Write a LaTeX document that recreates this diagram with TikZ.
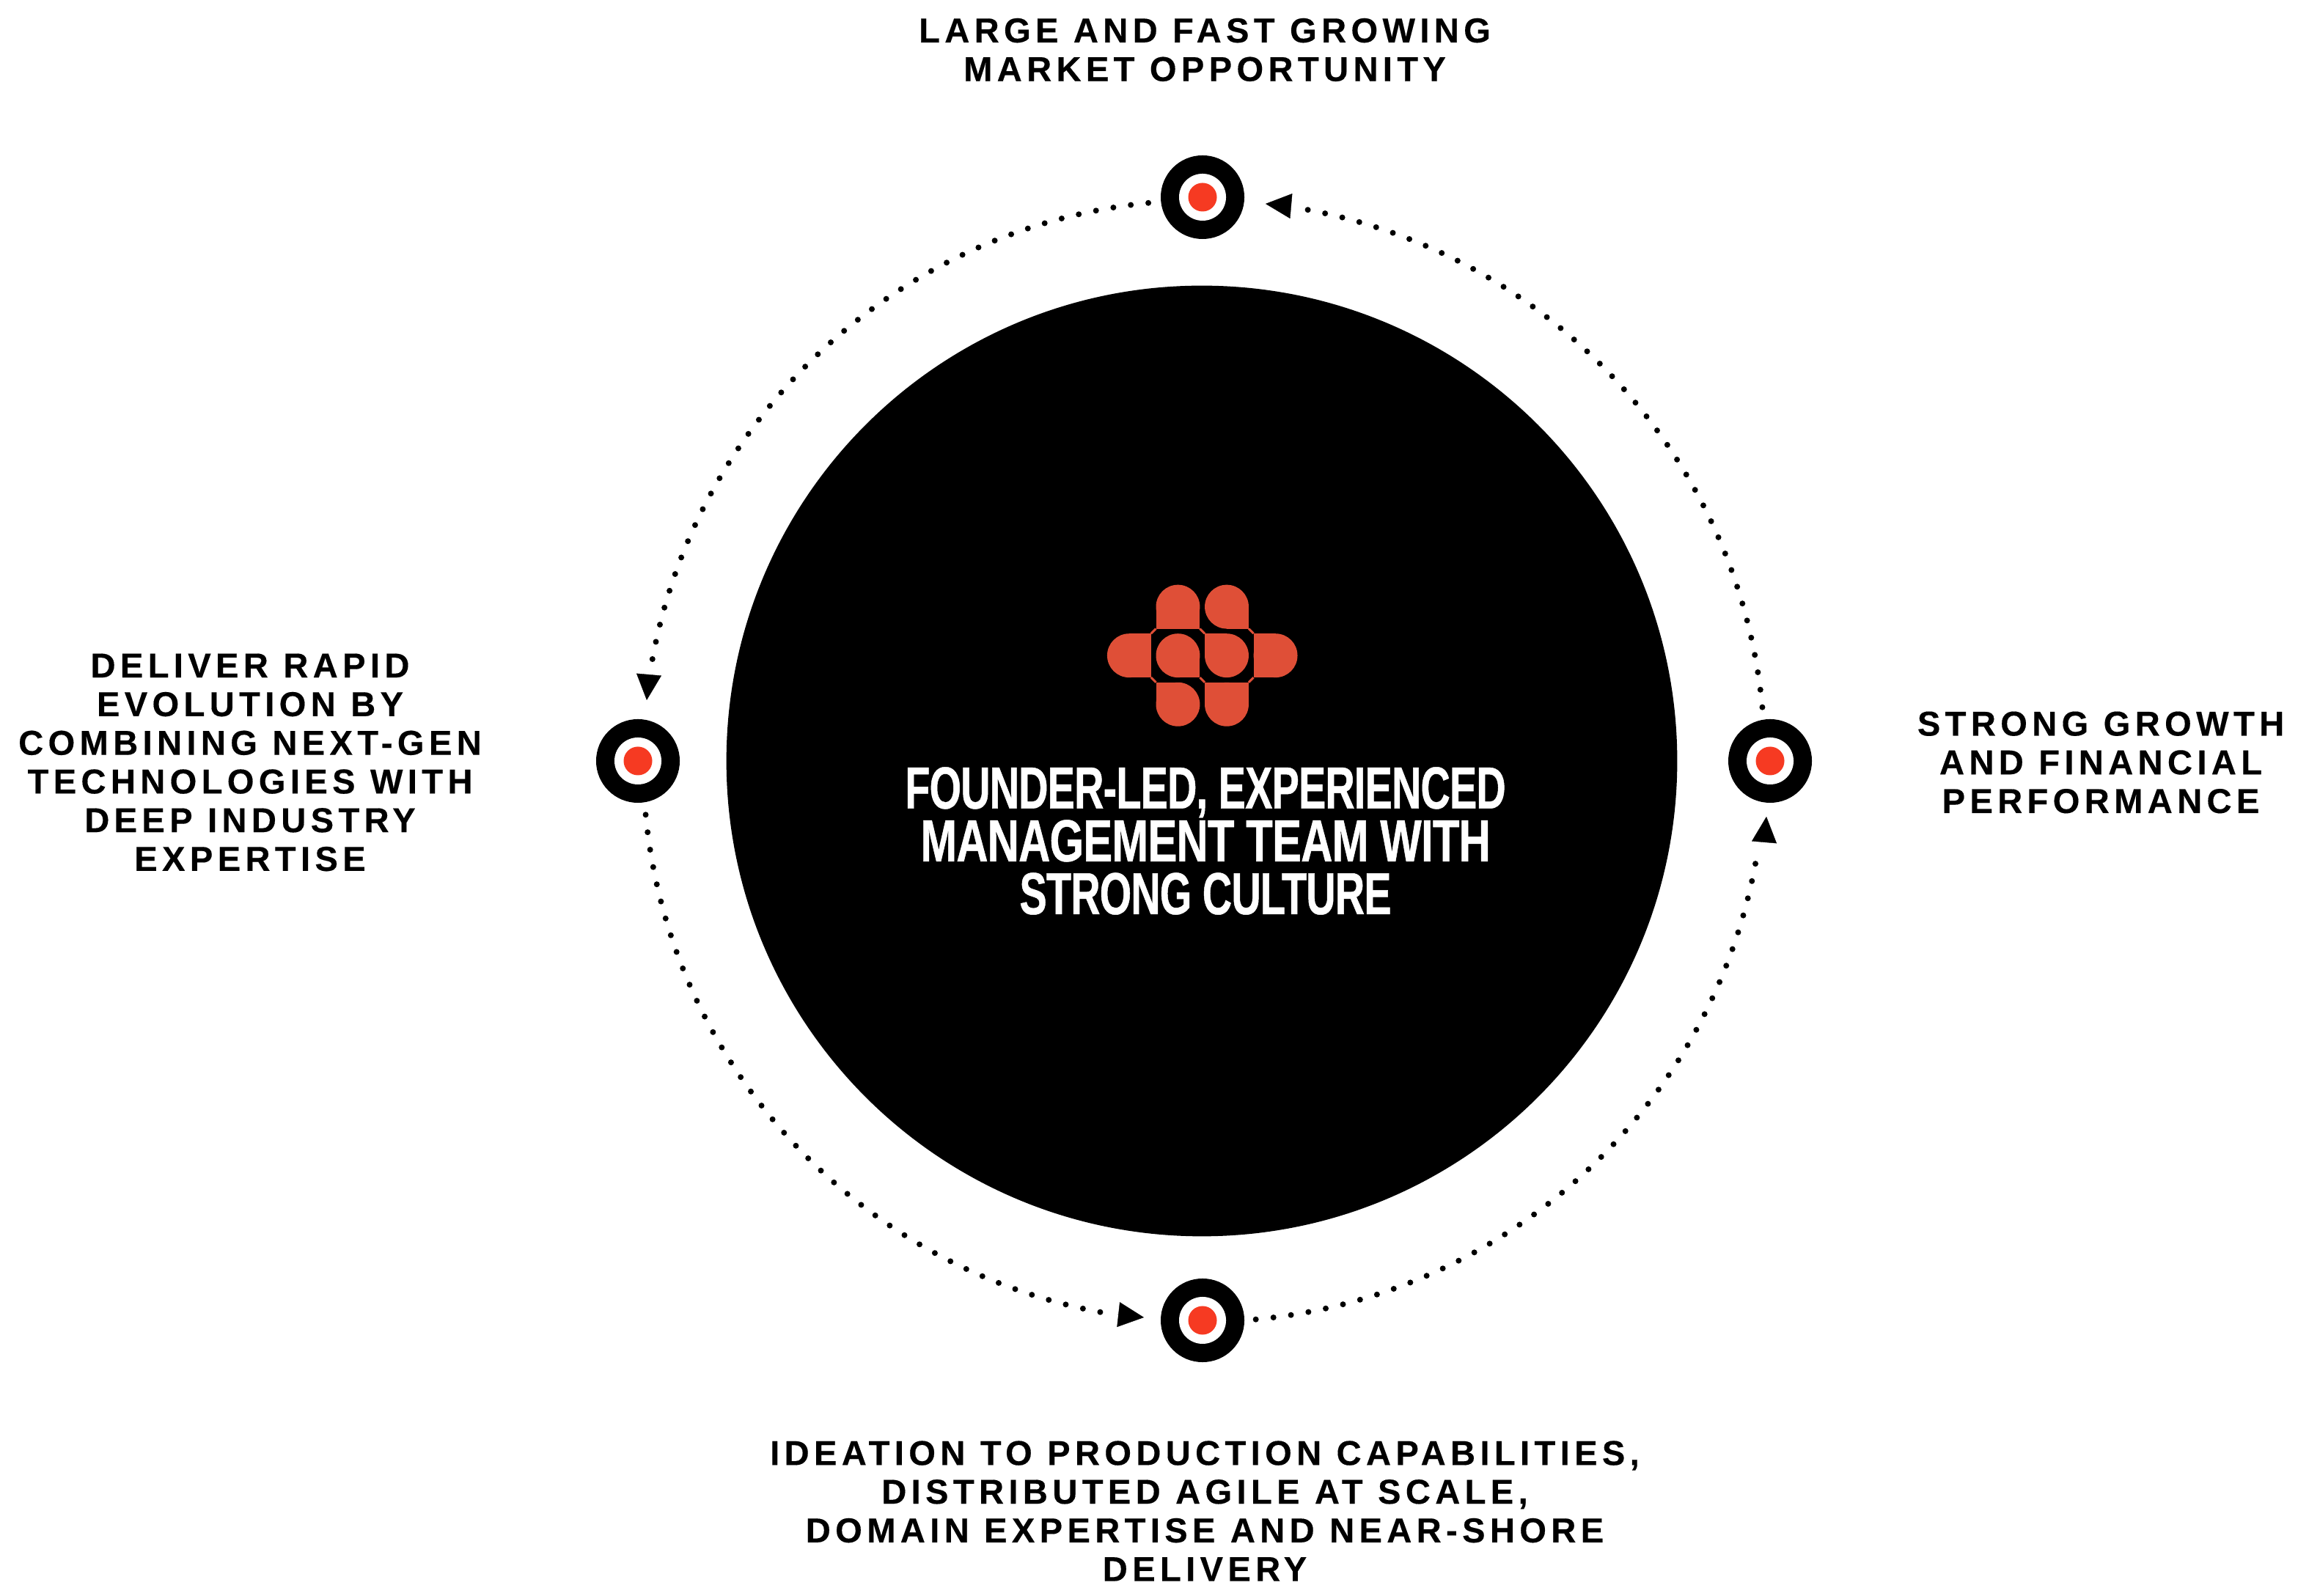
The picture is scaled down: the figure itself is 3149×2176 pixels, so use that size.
\documentclass[tikz,border=0pt]{standalone}
\usepackage{fontspec}
\usetikzlibrary{arrows.meta}
\setmainfont{Liberation Sans}
\newfontfamily\lblfont[LetterSpace=13.5,WordSpace=1.05,FakeBold=0.3]{Liberation Sans Bold}
\newfontfamily\hubfont[FakeStretch=0.69,LetterSpace=-1,FakeBold=0.6]{Liberation Sans Bold}
\newfontfamily\hubwide[FakeStretch=0.74,LetterSpace=-1,FakeBold=0.6]{Liberation Sans Bold}
\definecolor{logored}{HTML}{DF4F37}
\definecolor{dotred}{HTML}{F63A22}
\tikzset{
  lbl/.style={font=\lblfont\fontsize{13.4}{15}\selectfont,align=center,text=black,inner sep=0pt},
  hubtext/.style={font=\hubfont\fontsize{23}{20.5}\selectfont,align=center,text=white,inner sep=0pt},
  hubdisc/.style={circle,fill=black,minimum size=12.96cm,inner sep=0pt},
  ring/.style={circle,fill=black,minimum size=1.14cm,inner sep=0pt},
  hole/.style={circle,fill=white,minimum size=0.64cm,inner sep=0pt},
  bull/.style={circle,fill=dotred,minimum size=0.39cm,inner sep=0pt},
  orbit/.style={line width=0.08cm,line cap=round,dash pattern=on 0pt off 0.2403cm},
  headtip/.style={line width=0.1pt,-{Triangle[length=0.35cm,width=0.34cm,fill=black]}},
  logofill/.style={fill=logored},
  logoline/.style={draw=logored,line width=0.03cm}
}
\newcommand{\lobe}[6]{%
  \fill[logofill] (#1,#2) circle[radius=90];
  \fill[logofill] (#3,#4) rectangle (#5,#6);}
\begin{document}
\begin{tikzpicture}[x=0.01cm,y=0.01cm]
\useasboundingbox (0,0) rectangle (3149,2176);
\coordinate (c) at (1639,1138);
\coordinate (o) at (1642,1138);
\node[hubdisc] (hub) at (c) {};
% target nodes
\node[ring] (top) at (1640,1907) {}; \node[hole] (topa) at (top) {}; \node[bull] (topb) at (top) {};
\node[ring] (left) at (870,1138) {}; \node[hole] (lefta) at (left) {}; \node[bull] (leftb) at (left) {};
\node[ring] (bottom) at (1640,375) {}; \node[hole] (bottoma) at (bottom) {}; \node[bull] (bottomb) at (bottom) {};
\node[ring] (right) at (2414,1138) {}; \node[hole] (righta) at (right) {}; \node[bull] (rightb) at (right) {};
% connectors: dotted arcs
\path (o) ++(95.7:765) coordinate (s1);
\path (o) ++(185.5:765) coordinate (s2);
\path (o) ++(275.3:765) coordinate (s3);
\path (o) ++(5.5:765) coordinate (s4);
\draw[orbit] (s1) arc[start angle=95.7,end angle=169.6,radius=765];
\draw[orbit] (s2) arc[start angle=185.5,end angle=259.4,radius=765];
\draw[orbit,dash pattern=on 0pt off 0.2413cm] (s3) arc[start angle=275.3,end angle=349.5,radius=765];
\draw[orbit] (s4) arc[start angle=5.5,end angle=79.4,radius=765];
% connectors: arrowheads
\coordinate (b1) at (885,1256); \coordinate (t1) at (882,1221);
\coordinate (b2) at (1524,383); \coordinate (t2) at (1560,379);
\coordinate (b3) at (2406,1027); \coordinate (t3) at (2409,1062);
\coordinate (b4) at (1760,1895); \coordinate (t4) at (1726,1898);
\draw[headtip] (b1) -- (t1);
\draw[headtip] (b2) -- (t2);
\draw[headtip] (b3) -- (t3);
\draw[headtip] (b4) -- (t4);
% logo
\begin{scope}[shift={(1460,1156)},x=0.003333cm,y=0.003333cm]
  \lobe{440}{578}{350}{488}{530}{578}
  \lobe{640}{578}{640}{488}{730}{578}
  \lobe{240}{378}{240}{288}{330}{468}
  \lobe{840}{378}{750}{288}{840}{468}
  \lobe{440}{378}{440}{288}{530}{378}
  \lobe{640}{378}{550}{378}{640}{468}
  \lobe{440}{178}{350}{178}{440}{268}
  \lobe{640}{178}{550}{178}{730}{268}
  \draw[logoline] (350,488) -- (330,468);
  \draw[logoline] (530,488) -- (550,468);
  \draw[logoline] (730,488) -- (750,468);
  \draw[logoline] (330,288) -- (350,268);
  \draw[logoline] (530,288) -- (550,268);
  \draw[logoline] (750,288) -- (730,268);
\end{scope}
% labels
\node[hubtext] (hubl) at (1644,1029) {FOUNDER-LED, EXPERIENCED\\{\hubwide MANAGEMENT TEAM WITH}\\STRONG CULTURE};
\node[lbl] (ltop) at (1643,2108) {LARGE AND FAST GROWING\\MARKET OPPORTUNITY};
\node[lbl] (lleft) at (341,1136) {DELIVER RAPID\\EVOLUTION BY\\COMBINING NEXT-GEN\\TECHNOLOGIES WITH\\DEEP INDUSTRY\\EXPERTISE};
\node[lbl] (lright) at (2865,1136) {STRONG GROWTH\\AND FINANCIAL\\PERFORMANCE};
\node[lbl] (lbottom) at (1643,115) {IDEATION TO PRODUCTION CAPABILITIES,\\DISTRIBUTED AGILE AT SCALE,\\DOMAIN EXPERTISE AND NEAR-SHORE\\DELIVERY};
\end{tikzpicture}
\end{document}
